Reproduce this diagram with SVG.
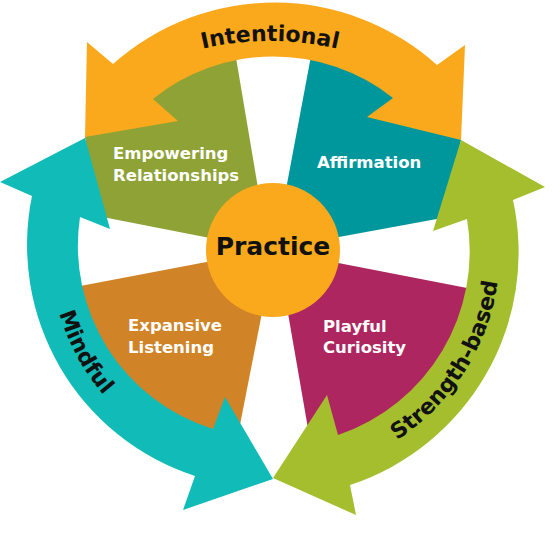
<svg xmlns="http://www.w3.org/2000/svg" width="554" height="533" viewBox="0 0 554 533">
<style>
.lbl{font-family:"DejaVu Sans","Liberation Sans",sans-serif;font-weight:bold;font-size:16.5px;fill:#ffffff}
.band{font-family:"DejaVu Sans","Liberation Sans",sans-serif;font-weight:bold;font-size:22px;fill:#111111}
.ctr{font-family:"DejaVu Sans","Liberation Sans",sans-serif;font-weight:bold;font-size:25px;fill:#111111}
</style>
<defs>
<path id="pInt" d="M 120,81.2 A 300 300 0 0 1 420,81.2"/>
<path id="pMind" d="M 65.5,168.3 A 223 223 0 0 0 228.5,468.5"/>
<path id="pStr" d="M 302.6,475 A 227 227 0 0 0 489.5,181.7"/>
</defs>
<rect width="554" height="533" fill="#ffffff"/>
<g id="empowering-relationships">
<path d="M 233,40 L 260,200 L 215,239 L 100,216.6 L 85,138 L 100,90 L 160,60 Z" fill="#8FA236"/>
<text class="lbl" x="113" y="159">Empowering</text>
<text class="lbl" x="113" y="181">Relationships</text>
</g>
<g id="affirmation">
<path d="M 314,40 L 284,200 L 328,239 L 445,217.5 L 461,140 L 450,90 L 390,60 Z" fill="#00979C"/>
<text class="lbl" x="317" y="168">Affirmation</text>
</g>
<g id="expansive-listening">
<path d="M 75,287 L 217,260 L 264.5,300 L 237,440 L 200,445 L 150,420 L 70,300 Z" fill="#D18328"/>
<text class="lbl" x="128" y="331">Expansive</text>
<text class="lbl" x="128" y="353">Listening</text>
</g>
<g id="playful-curiosity">
<path d="M 328,261 L 480,290.5 L 485,300 L 420,400 L 345,440 L 310,440 L 285.7,300 Z" fill="#AE2660"/>
<text class="lbl" x="323" y="332">Playful</text>
<text class="lbl" x="323" y="353">Curiosity</text>
</g>
<g id="practice">
<circle cx="273" cy="250" r="67" fill="#F9A91B"/>
<text class="ctr" x="273" y="255" text-anchor="middle">Practice</text>
</g>
<g id="connectors">
<g id="intentional">
<path d="M 85,137 L 87,42 L 113,64 A 243 243 0 0 1 437,65 L 465,45 L 461,140 L 367,117 L 393,98 A 192 192 0 0 0 153,99 L 178,121 Z" fill="#F9A91B"/>
<text class="band"><textPath href="#pInt" startOffset="50%" text-anchor="middle">Intentional</textPath></text>
</g>
<g id="mindful">
<path d="M 0,182 L 85,138 L 110,229 L 80,217 A 192 192 0 0 0 213,429 L 225,397 L 273,479 L 183,510 L 195,476 A 243 243 0 0 1 32,196 Z" fill="#10BBB8"/>
<text class="band"><textPath href="#pMind" startOffset="50%" text-anchor="middle">Mindful</textPath></text>
</g>
<g id="strength-based">
<path d="M 545,187 L 513,200 A 245 245 0 0 1 350,485 L 356,515 L 273,478 L 327,395 L 338,435 A 194 194 0 0 0 467,219 L 433,231 L 461,140 Z" fill="#A5BE2E"/>
<text class="band"><textPath href="#pStr" startOffset="50%" text-anchor="middle">Strength-based</textPath></text>
</g>
</g>
</svg>
